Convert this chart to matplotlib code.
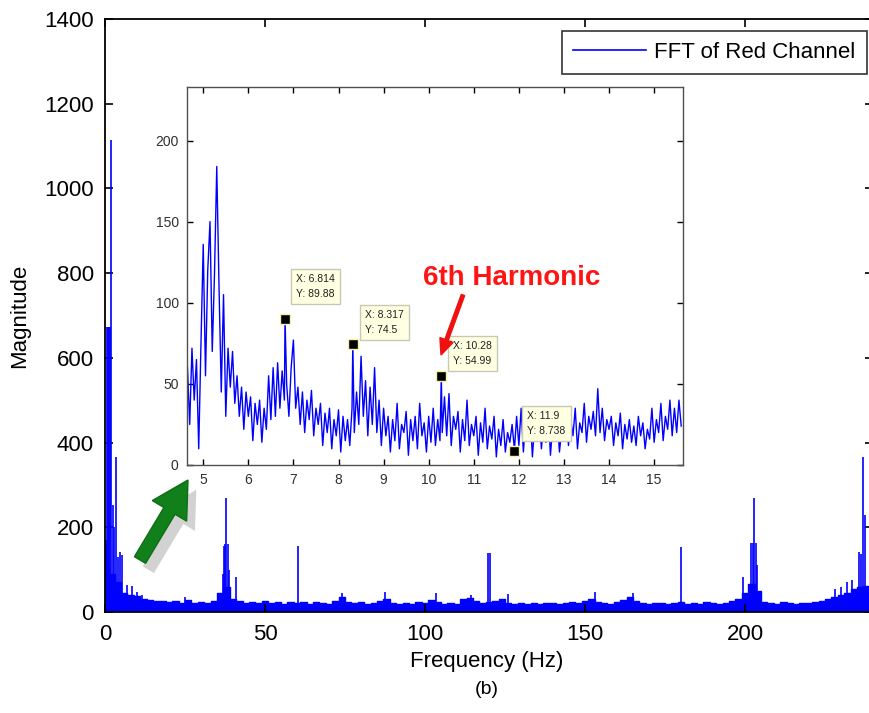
import numpy as np
import matplotlib
matplotlib.use("Agg")
import matplotlib.pyplot as plt
from matplotlib.patches import FancyArrow
from matplotlib.transforms import IdentityTransform
import matplotlib.patheffects as pe

plt.rcParams['font.family'] = ['Liberation Sans', 'DejaVu Sans']

# ---- main spectrum: broadband floor, sampled every 2 Hz from 0 to 240 Hz
floor_mag = [170, 90, 70, 45, 40, 38, 30, 28, 25, 26,
             24, 25, 22, 28, 22, 24, 22, 25, 45, 60,
             30, 25, 22, 24, 21, 25, 22, 24, 20, 23,
             22, 24, 20, 23, 22, 20, 26, 35, 24, 22,
             24, 20, 22, 25, 30, 22, 20, 22, 20, 23,
             22, 28, 24, 20, 22, 20, 30, 34, 25, 22,
             24, 25, 30, 22, 18, 22, 20, 22, 20, 22,
             21, 20, 22, 24, 22, 25, 30, 24, 22, 20,
             24, 28, 35, 25, 22, 20, 22, 21, 20, 22,
             24, 20, 22, 20, 24, 22, 20, 22, 25, 30,
             45, 65, 50, 24, 22, 20, 24, 22, 20, 22,
             21, 24, 26, 30, 35, 40, 45, 55, 60, 62,
             60]
floor_freq = np.linspace(0, 240, len(floor_mag))

# ---- main spectrum: narrow peaks (Hz, magnitude)
peak_freq = [0.6, 0.9, 1.2, 1.5, 1.8, 2.4, 2.8, 3.4, 4.0, 4.7, 5.2, 6.9, 8.4,
             10.0, 11.5, 25.0, 36.8, 37.2, 37.6, 37.9, 38.3, 38.7, 41.0,
             60.2, 74.0, 87.5, 103.4, 114.4, 119.8, 120.2, 126.0, 153.0,
             165.0, 180.0, 199.5, 201.8, 202.4, 202.8, 203.3, 203.7,
             228.0, 230.0, 232.0, 233.5, 234.5, 235.5, 236.2, 237.0, 237.6]
peak_mag = [673, 673, 673, 673, 1114, 253, 200, 366, 130, 142, 135, 64, 61,
            47, 40, 35, 90, 156, 160, 269, 160, 100, 83,
            156, 45, 47, 45, 40, 139, 139, 42, 47,
            45, 154, 83, 163, 163, 269, 163, 110,
            55, 60, 70, 75, 50, 142, 138, 366, 229]

# ---- zoomed inset: 4.65 .. 15.60 Hz
inset_mag = [60, 25, 72, 40, 65, 10, 75, 136, 55, 120,
             150, 70, 118, 184, 110, 45, 105, 30, 72, 48,
             70, 38, 55, 30, 48, 22, 45, 30, 42, 15,
             38, 25, 40, 14, 35, 22, 55, 28, 60, 30,
             63, 35, 58, 40, 50, 30, 60, 77, 35, 48,
             25, 45, 20, 40, 28, 46, 18, 35, 25, 38,
             12, 32, 20, 35, 10, 28, 18, 34, 8, 30,
             15, 28, 12, 35, 20, 45, 25, 67, 30, 52,
             18, 48, 25, 60, 20, 40, 12, 35, 18, 30,
             8, 28, 15, 38, 10, 25, 20, 33, 6, 28,
             15, 30, 10, 38, 18, 26, 8, 30, 14, 35,
             12, 28, 15, 20, 42, 18, 44, 12, 30, 22,
             33, 8, 28, 15, 40, 12, 25, 18, 30, 6,
             26, 14, 35, 10, 24, 16, 30, 5, 22, 12,
             28, 8, 20, 14, 25, 10, 30, 12, 35, 8,
             28, 15, 32, 5, 25, 18, 30, 10, 26, 14,
             34, 6, 24, 16, 30, 8, 22, 15, 32, 12,
             28, 18, 35, 10, 26, 20, 38, 14, 30, 22,
             33, 18, 47, 20, 35, 15, 28, 22, 30, 12,
             26, 18, 32, 10, 25, 16, 28, 14, 24, 12,
             30, 18, 26, 10, 22, 16, 35, 14, 28, 20,
             38, 15, 30, 22, 40, 18, 35, 20, 40, 24]
inset_freq = np.linspace(4.65, 15.60, len(inset_mag))

# data tips shown in the inset
tip_x = [6.814, 8.317, 10.28, 11.9]
tip_y = [89.88, 74.5, 54.99, 8.738]
tip_text = ["X: 6.814\nY: 89.88", "X: 8.317\nY: 74.5",
            "X: 10.28\nY: 54.99", "X: 11.9\nY: 8.738"]
tip_offset = [(11, 20), (12, 9), (12, 10), (13, 15)]

# merge the data tip samples into the inset trace
all_x = np.concatenate([inset_freq, tip_x])
all_y = np.concatenate([inset_mag, tip_y])
order = np.argsort(all_x)
all_x, all_y = all_x[order], all_y[order]

W, H = 870, 713
fig = plt.figure(figsize=(W / 100, H / 100), dpi=100)

# ---------------- main axes
ax = fig.add_axes([105 / W, 1 - 612 / H, (873 - 105) / W, (612 - 19) / H])
ax.fill_between(floor_freq, floor_mag, step='mid', color='#0000ff', lw=0)
ax.step(floor_freq, floor_mag, where='mid', color='#0000ff', lw=1)
ax.vlines(peak_freq, 0, peak_mag, color='#0000ff', lw=1.2)
ax.plot([], [], color='#0000ff', lw=1.2, label='FFT of Red Channel')
ax.set_xlim(0, 240)
ax.set_ylim(0, 1400)
ax.set_xticks([0, 50, 100, 150, 200])
ax.set_yticks(range(0, 1401, 200))
ax.tick_params(direction='in', length=6, width=1.2, labelsize=16,
               top=True, right=True)
ax.tick_params(axis='y', pad=8)
ax.tick_params(axis='x', pad=9)
for s in ax.spines.values():
    s.set_linewidth(1.3)

fig.legend(loc='upper left', bbox_to_anchor=(562 / W, 1 - 31 / H),
           fontsize=16, frameon=True, fancybox=False, edgecolor='black',
           handlelength=3.3, handletextpad=0.35, borderpad=0.5,
           borderaxespad=0).get_frame().set_linewidth(1.2)

fig.text(20 / W, 1 - 316 / H, 'Magnitude', rotation=90, ha='center',
         va='center', fontsize=16)
fig.text(487 / W, 1 - 661 / H, 'Frequency (Hz)', ha='center', va='center',
         fontsize=16)
fig.text(487 / W, 1 - 690 / H, '(b)', ha='center', va='center', fontsize=14)

# ---------------- inset axes
ins = fig.add_axes([187 / W, 1 - 465 / H, (683 - 187) / W, (465 - 87) / H])
ins.plot(all_x, all_y, color='#0000ff', lw=1.0)
ins.set_xlim(4.64, 15.64)
ins.set_ylim(0, 233)
ins.set_xticks(range(5, 16))
ins.set_yticks(range(0, 201, 50))
ins.tick_params(direction='in', length=4, width=1, labelsize=10,
                labelcolor='#303030', top=True, right=True, pad=6)
for s in ins.spines.values():
    s.set_color('#505050')
    s.set_linewidth(1)

ins.plot(tip_x, tip_y, 's', color='black', ms=7, mec='#f4f0b0', mew=1,
         zorder=5)
for x, y, t, off in zip(tip_x, tip_y, tip_text, tip_offset):
    ins.annotate(t, (x, y), xytext=off, textcoords='offset pixels',
                 ha='left', va='bottom', fontsize=7.5, linespacing=1.6,
                 color='#202020', zorder=6,
                 bbox=dict(boxstyle='square,pad=0.5', fc='#ffffe1',
                           ec='#c8c8b4', lw=1))

# ---------------- callouts
fig.text(512 / W, 1 - 285 / H, '6th Harmonic', ha='center', va='baseline',
         fontsize=20, fontweight='bold', color='#ff1414')
fig.add_artist(FancyArrow(463, H - 295, -22, -60, width=3.5, head_width=14,
                          head_length=16, length_includes_head=True,
                          color='#f01010', transform=IdentityTransform()))

green = FancyArrow(140, H - 560, 48, 80, width=13, head_width=40,
                   head_length=36, length_includes_head=True,
                   fc='#12801a', ec='#0e6e14', lw=1,
                   transform=IdentityTransform())
green.set_path_effects([pe.SimplePatchShadow(offset=(6, -7),
                                             shadow_rgbFace='#909090',
                                             alpha=0.4),
                        pe.Normal()])
fig.add_artist(green)

fig.savefig('out.png', dpi=100)
